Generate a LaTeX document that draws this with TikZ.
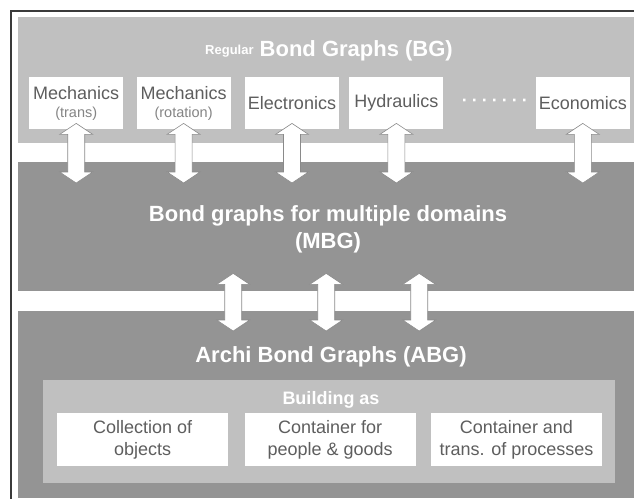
\documentclass[tikz,border=0pt]{standalone}
\usepackage[]{xcolor}
\usepackage{fontspec}
\setmainfont{Liberation Sans}
\usepackage{tikz}
\usetikzlibrary{positioning, calc}

\definecolor{bandlight}{HTML}{C0C0C0}
\definecolor{banddark}{HTML}{949494}
\definecolor{boxtext}{HTML}{5E5E5E}
\definecolor{subtext}{HTML}{858585}
\definecolor{arrowline}{HTML}{8A8A8A}
\definecolor{framegray}{HTML}{3A3A3A}

\begin{document}
\begin{tikzpicture}[x=1pt, y=-1pt, node distance=13pt and 13pt,
    band/.style={anchor=north west, fill=#1, inner sep=0pt, minimum width=616pt},
    domainbox/.style={fill=white, inner sep=0pt, minimum width=94pt, minimum height=52pt, align=center, text=boxtext, font=\fontsize{18}{19}\selectfont},
    rolebox/.style={fill=white, inner sep=0pt, minimum width=171pt, minimum height=53pt, align=center, text=boxtext, font=\fontsize{18}{22}\selectfont},
    bandtitle/.style={text=white, align=center, font=\bfseries\fontsize{22}{27}\selectfont},
    fatarrow/.style={draw=arrowline, fill=white, line width=0.6pt,
        to path={let \p1=(\tikztostart), \p2=(\tikztotarget) in
            (\x1,\y1) -- (\x1+16.5pt,\y1-11pt) -- (\x1+8.5pt,\y1-11pt) -- (\x1+8.5pt,\y2+11pt)
            -- (\x1+16.5pt,\y2+11pt) -- (\x1,\y2) -- (\x1-16.5pt,\y2+11pt) -- (\x1-8.5pt,\y2+11pt)
            -- (\x1-8.5pt,\y1-11pt) -- (\x1-16.5pt,\y1-11pt) -- cycle}}]

    \useasboundingbox (0,0) rectangle (634,498);
    \clip (0,0) rectangle (634,498);

    % Frame and bands
    \draw[framegray, line width=1.6pt] (11,11) rectangle (660,520);
    \node (bg) [band=bandlight, minimum height=126pt] at (18,17) {};
    \node (mbg) [band=banddark, minimum height=129pt] at (18,162) {};
    \node (abg) [band=banddark, minimum height=187pt] at (18,311) {};
    \node (building) [band=bandlight, minimum width=572pt, minimum height=103pt] at (43,380) {};

    % Titles
    \node (bgtitle) [bandtitle] at (329,51) {\raisebox{2pt}{\fontsize{13}{13}\selectfont Regular} Bond Graphs (BG)};
    \node (mbgtitle) [bandtitle] at (328,229) {Bond graphs for multiple domains\\(MBG)};
    \node (abgtitle) [bandtitle] at (331,357) {Archi Bond Graphs (ABG)};
    \node (buildtitle) [bandtitle, font=\bfseries\fontsize{18}{18}\selectfont] at (331,400) {Building as};

    % Domain nodes
    \node (mechtrans) [domainbox, anchor=north west] at (29,77) {Mechanics\\[-1pt]{\fontsize{14.5}{14.5}\selectfont\color{subtext}(trans)}};
    \node (mechrot) [domainbox, right=13pt of mechtrans] {Mechanics\\[-1pt]{\fontsize{14.5}{14.5}\selectfont\color{subtext}(rotation)}};
    \node (elec) [domainbox, right=14pt of mechrot] {Electronics};
    \node (hyd) [domainbox, right=10pt of elec] {Hydraulics};
    \node (dots) [right=18pt of hyd, inner sep=0pt, text=white, font=\bfseries\fontsize{18}{18}\selectfont] {·\hspace{4pt}·\hspace{4pt}·\hspace{4pt}·\hspace{4pt}·\hspace{4pt}·\hspace{4pt}·};
    \node (econ) [domainbox, right=92pt of hyd] {Economics};

    % Building nodes
    \node (objects) [rolebox, anchor=north west] at (57,413) {Collection of\\objects};
    \node (people) [rolebox, right=16pt of objects] {Container for\\people \& goods};
    \node (processes) [rolebox, right=15pt of people] {Container and\\trans. of processes};

    % Edges
    \draw[fatarrow] ($(mechtrans.south)+(0,-6)$) to ($(mechtrans.south |- mbg.north)+(0,21)$);
    \draw[fatarrow] ($(mechrot.south)+(0,-6)$) to ($(mechrot.south |- mbg.north)+(0,21)$);
    \draw[fatarrow] ($(elec.south)+(0,-6)$) to ($(elec.south |- mbg.north)+(0,21)$);
    \draw[fatarrow] ($(hyd.south)+(0,-6)$) to ($(hyd.south |- mbg.north)+(0,21)$);
    \draw[fatarrow] ($(econ.south)+(0,-6)$) to ($(econ.south |- mbg.north)+(0,21)$);
    \draw[fatarrow] ($(mbg.south)+(-93,-18)$) to ($(abg.north)+(-93,20)$);
    \draw[fatarrow] ($(mbg.south)+(0,-18)$) to ($(abg.north)+(0,20)$);
    \draw[fatarrow] ($(mbg.south)+(93,-18)$) to ($(abg.north)+(93,20)$);
\end{tikzpicture}
\end{document}
